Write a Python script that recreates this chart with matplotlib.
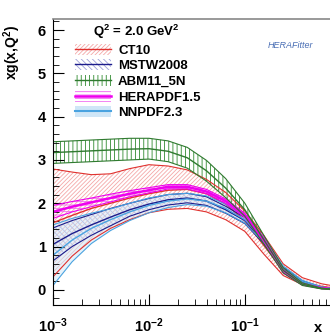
import numpy as np
import matplotlib
matplotlib.use("Agg")
import matplotlib.pyplot as plt
from matplotlib.patches import Patch
from matplotlib.lines import Line2D
from matplotlib.ticker import MultipleLocator, FixedLocator, LogLocator

plt.rcParams["font.family"] = ["Liberation Sans", "DejaVu Sans"]
plt.rcParams["font.weight"] = "bold"
plt.rcParams["mathtext.fontset"] = "custom"
plt.rcParams["mathtext.rm"] = "Liberation Sans:bold"
plt.rcParams["mathtext.bf"] = "Liberation Sans:bold"
plt.rcParams["mathtext.it"] = "Liberation Sans:bold:italic"
plt.rcParams["hatch.linewidth"] = 0.6

# x grid (read at log10 steps of 0.2)
x = 10.0 ** np.array([-3.0, -2.8, -2.6, -2.4, -2.2, -2.0, -1.8, -1.6,
                      -1.4, -1.2, -1.0, -0.8, -0.6, -0.4, -0.2, 0.0])

# CT10
ct10_up  = [2.79, 2.72, 2.66, 2.68, 2.80, 2.89, 2.86, 2.77, 2.55, 2.25, 1.82, 1.25, 0.60, 0.28, 0.14, 0.06]
ct10_mid = [1.55, 1.72, 1.88, 2.00, 2.12, 2.22, 2.30, 2.32, 2.22, 1.98, 1.60, 1.02, 0.45, 0.18, 0.08, 0.02]
ct10_lo  = [0.30, 0.78, 1.15, 1.42, 1.62, 1.78, 1.86, 1.88, 1.80, 1.62, 1.35, 0.82, 0.33, 0.12, 0.04, 0.00]

# MSTW2008
mstw_mid = [1.05, 1.30, 1.50, 1.68, 1.85, 1.98, 2.08, 2.12, 2.05, 1.85, 1.60, 1.12, 0.48, 0.18, 0.05, 0.00]
mstw_err = [0.38, 0.30, 0.24, 0.20, 0.15, 0.13, 0.12, 0.11, 0.10, 0.08, 0.07, 0.06, 0.04, 0.03, 0.01, 0.00]

# ABM11_5N
abm_mid = [3.17, 3.19, 3.21, 3.23, 3.25, 3.26, 3.20, 3.05, 2.75, 2.35, 1.85, 1.15, 0.45, 0.13, 0.03, 0.00]
abm_err = [0.25, 0.25, 0.25, 0.25, 0.25, 0.24, 0.24, 0.24, 0.24, 0.22, 0.15, 0.10, 0.06, 0.03, 0.01, 0.00]

# HERAPDF1.5
hera_mid = [1.80, 1.92, 2.02, 2.12, 2.22, 2.30, 2.38, 2.38, 2.27, 2.05, 1.72, 1.15, 0.43, 0.13, 0.04, 0.00]
hera_err = [0.15, 0.12, 0.10, 0.09, 0.07, 0.06, 0.05, 0.05, 0.05, 0.05, 0.05, 0.05, 0.04, 0.02, 0.01, 0.00]

# NNPDF2.3
nnpdf_mid = [0.80, 1.15, 1.42, 1.62, 1.80, 1.95, 2.05, 2.10, 2.05, 1.88, 1.62, 1.15, 0.50, 0.19, 0.06, 0.00]
nnpdf_err = [0.70, 0.50, 0.35, 0.25, 0.20, 0.17, 0.15, 0.13, 0.12, 0.10, 0.08, 0.06, 0.05, 0.03, 0.01, 0.00]

fig = plt.figure(figsize=(3.3, 3.35), dpi=100)
ax = fig.add_axes([0.1606, 0.0896, 0.872, 0.853])


def band(lo, hi, mid, color, edge, hatch, mid_lw=1.0, alpha=1.0, fill=None):
    lo = np.asarray(lo)
    hi = np.asarray(hi)
    if fill is not None:
        ax.fill_between(x, lo, hi, facecolor=fill, edgecolor="none", alpha=alpha)
    ax.fill_between(x, lo, hi, facecolor="none", edgecolor=color, hatch=hatch, linewidth=0)
    ax.plot(x, lo, color=edge, lw=0.8)
    ax.plot(x, hi, color=edge, lw=0.8)
    ax.plot(x, mid, color=edge, lw=mid_lw)


# CT10
band(ct10_lo, ct10_up, ct10_mid, "#f4a8a8", "#e0312e", "////////")
# MSTW
m = np.array(mstw_mid); e = np.array(mstw_err)
band(m - e, m + e, m, "#9d9fd8", "#1c1c8c", "\\\\\\\\\\\\")
# NNPDF
m = np.array(nnpdf_mid); e = np.array(nnpdf_err)
band(m - e, m + e, m, "#a8d4f0", "#4aa3e0", "", fill="#cfe6f7", alpha=0.5)
# HERAPDF
m = np.array(hera_mid); e = np.array(hera_err)
band(m - e, m + e, m, "#f060f0", "#ee00ee", "-----", mid_lw=1.8)
# ABM
m = np.array(abm_mid); e = np.array(abm_err)
band(m - e, m + e, m, "#2f8a2f", "#2f7a2f", "||||")

ax.set_xscale("log")
ax.set_xlim(1e-3, 1)
ax.set_ylim(-0.35, 6.25)
ax.yaxis.set_major_locator(MultipleLocator(1))
ax.yaxis.set_minor_locator(MultipleLocator(0.2))
ax.xaxis.set_major_locator(FixedLocator([1e-3, 1e-2, 1e-1]))
ax.xaxis.set_minor_locator(LogLocator(base=10, subs=np.arange(2, 10), numticks=20))
ax.set_xticklabels(["$10^{-3}$", "$10^{-2}$", "$10^{-1}$"])
ax.tick_params(which="both", direction="in", top=False, right=False, labelsize=10.5)
ax.tick_params(which="major", length=8, width=0.8)
ax.tick_params(which="minor", length=4, width=0.6)
ax.tick_params(axis="x", pad=8)
ax.tick_params(axis="y", pad=5)
ax.spines["top"].set_color("#888888")
ax.spines["top"].set_linewidth(1.2)
ax.spines["right"].set_visible(False)

fig.text(0.036, 0.842, "xg(x,Q$^2$)", rotation=90, ha="center", va="center", fontsize=10)
fig.text(0.964, 0.022, "x", ha="center", va="center", fontsize=10.5)

handles = [
    (Patch(facecolor="none", edgecolor="#f4a8a8", hatch="////////", lw=0), Line2D([], [], color="#e0312e", lw=1.0)),
    (Patch(facecolor="none", edgecolor="#9d9fd8", hatch="\\\\\\\\\\\\", lw=0), Line2D([], [], color="#1c1c8c", lw=1.0)),
    (Patch(facecolor="none", edgecolor="#2f8a2f", hatch="||||", lw=0), Line2D([], [], color="#2f7a2f", lw=1.0)),
    (Patch(facecolor="none", edgecolor="#f060f0", hatch="-----", lw=0), Line2D([], [], color="#ee00ee", lw=1.8)),
    (Patch(facecolor="#cfe6f7", edgecolor="none"), Line2D([], [], color="#4aa3e0", lw=1.5)),
]
labels = ["CT10", "MSTW2008", "ABM11_5N", "HERAPDF1.5", "NNPDF2.3"]
leg = ax.legend(handles, labels, title="Q$^2$ = 2.0 GeV$^2$", loc="upper left",
                bbox_to_anchor=(0.045, 1.02), frameon=False, fontsize=9.5,
                title_fontsize=9.5, handlelength=2.7, handleheight=0.9,
                labelspacing=0.2, handletextpad=0.55, borderaxespad=0.3)
leg._legend_box.align = "left"
leg.get_title().set_fontweight("bold")
leg.get_title().set_position((18, 0))

fig.text(0.88, 0.865, "HERAFitter", color="#4a6fb5", fontsize=6.5, style="italic",
         fontweight="normal", ha="center", va="center")

fig.savefig("out.png", dpi=100)
